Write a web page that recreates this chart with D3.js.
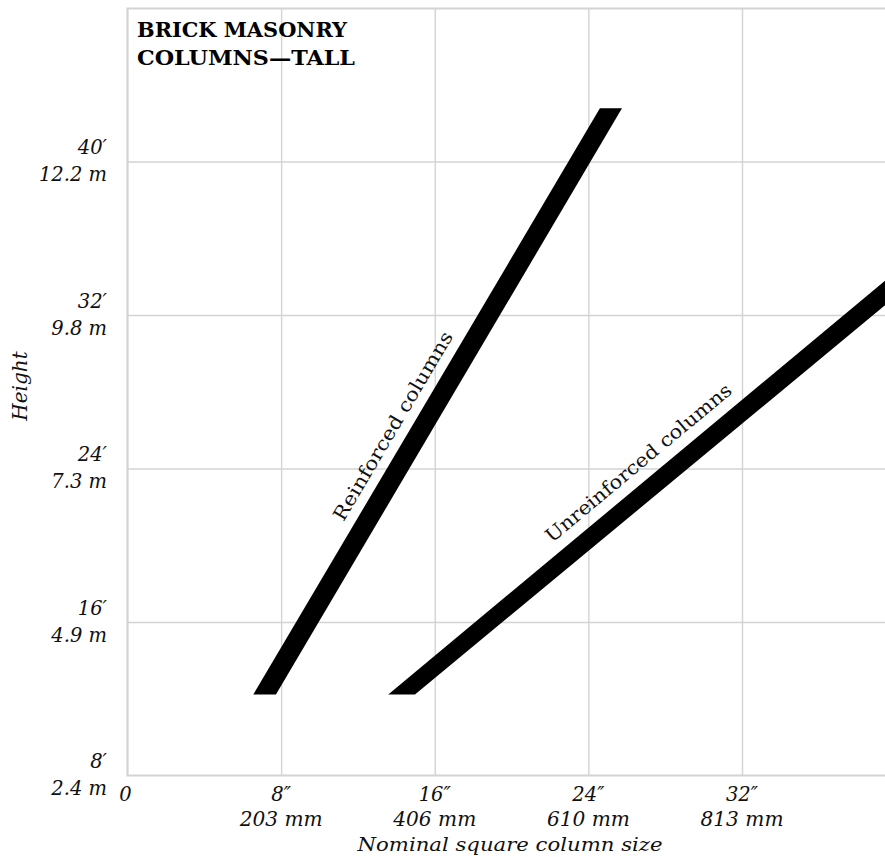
<!DOCTYPE html>
<html><head><meta charset="utf-8">
<script src="https://cdn.jsdelivr.net/npm/d3@7"></script>
<style>
html,body{margin:0;padding:0;background:#fff;}
svg{display:block;}
</style></head>
<body>
<svg id="chart" width="885" height="857"></svg>
<script>
// ---- data ----
const sizeTicks = [8, 16, 24, 32];            // inches
const sizeLabels = ["8″", "16″", "24″", "32″"];
const sizeMetric = ["203 mm", "406 mm", "610 mm", "813 mm"];
const heightTicks = [8, 16, 24, 32, 40];      // feet
const heightLabels = ["8′", "16′", "24′", "32′", "40′"];
const heightMetric = ["2.4 m", "4.9 m", "7.3 m", "9.8 m", "12.2 m"];
// bands: height (ft) with min/max column size (in)
const reinforced = [
  {h: 12.22, lo: 6.55, hi: 7.73},
  {h: 42.77, lo: 24.6, hi: 25.75}
];
const unreinforced = [
  {h: 12.22, lo: 13.58, hi: 14.97},
  {h: 34.29, lo: 40.05, hi: 41.6}
];
const bandLabels = [
  {text: "Reinforced columns", x: 11.25, h: 21.2, band: reinforced, len: 216},
  {text: "Unreinforced columns", x: 22.1, h: 20.1, band: unreinforced, len: 236}
];

// ---- layout ----
const W = 885, H = 857;
const svg = d3.select("#chart");
const x = d3.scaleLinear().domain([0, 32]).range([127.5, 742]);
const y = d3.scaleLinear().domain([8, 40]).range([775.5, 161.5]);
const plotLeft = x(0), plotRight = W, plotTop = 8.5, plotBottom = y(8);
const gridColor = "#d3d3d3";
const serif = "'DejaVu Serif', serif";

svg.append("defs").append("clipPath").attr("id", "plotclip")
  .append("rect").attr("x", plotLeft).attr("y", plotTop)
  .attr("width", plotRight - plotLeft).attr("height", plotBottom - plotTop);

// grid lines
const xAxisGrid = d3.axisBottom(x).tickValues(sizeTicks).tickSize(-(plotBottom - plotTop)).tickFormat("");
const gx = svg.append("g").attr("transform", `translate(0,${plotBottom})`).call(xAxisGrid);
gx.select(".domain").remove();
gx.selectAll("line").attr("stroke", gridColor).attr("stroke-width", 1.4);

const yAxisGrid = d3.axisLeft(y).tickValues(heightTicks.slice(1)).tickSize(-(plotRight - plotLeft)).tickFormat("");
const gy = svg.append("g").attr("transform", `translate(${plotLeft},0)`).call(yAxisGrid);
gy.select(".domain").remove();
gy.selectAll("line").attr("stroke", gridColor).attr("stroke-width", 1.4);

// frame (top, left, bottom)
svg.append("path")
  .attr("d", `M${plotRight},${plotTop}H${plotLeft}V${plotBottom}H${plotRight}`)
  .attr("fill", "none").attr("stroke", gridColor).attr("stroke-width", 2.2);

// bands
function bandPath(b) {
  const pts = [
    [x(b[0].lo), y(b[0].h)], [x(b[1].lo), y(b[1].h)],
    [x(b[1].hi), y(b[1].h)], [x(b[0].hi), y(b[0].h)]
  ];
  return d3.line()(pts) + "Z";
}
const bands = svg.append("g").attr("clip-path", "url(#plotclip)");
[reinforced, unreinforced].forEach(b => {
  bands.append("path").attr("d", bandPath(b)).attr("fill", "#000");
});

// band labels
bandLabels.forEach(l => {
  const b = l.band;
  const ang = Math.atan2(y(b[1].h) - y(b[0].h), x(b[1].lo) - x(b[0].lo)) * 180 / Math.PI;
  svg.append("text")
    .attr("transform", `translate(${x(l.x)},${y(l.h)}) rotate(${ang})`)
    .attr("font-family", serif).attr("font-size", 19).attr("fill", "#111")
    .attr("textLength", l.len).attr("lengthAdjust", "spacingAndGlyphs")
    .text(l.text);
});

// title
const title = svg.append("text").attr("font-family", serif).attr("font-weight", "bold")
  .attr("font-size", 20.5).attr("fill", "#000");
title.append("tspan").attr("x", 137).attr("y", 37).attr("textLength", 210).attr("lengthAdjust", "spacingAndGlyphs").text("BRICK MASONRY");
title.append("tspan").attr("x", 137).attr("y", 65).attr("textLength", 218).attr("lengthAdjust", "spacingAndGlyphs").text("COLUMNS—TALL");

// y labels
const yl = svg.append("g").attr("font-family", serif).attr("font-style", "italic")
  .attr("font-size", 19.5).attr("fill", "#111").attr("text-anchor", "end");
heightTicks.forEach((t, i) => {
  yl.append("text").attr("x", 107).attr("y", y(t) - 7.5).text(heightLabels[i]);
  yl.append("text").attr("x", 107).attr("y", y(t) + 19.5).text(heightMetric[i]);
});
svg.append("text").attr("transform", `translate(27,386) rotate(-90)`)
  .attr("font-family", serif).attr("font-style", "italic").attr("font-size", 20)
  .attr("fill", "#111").attr("text-anchor", "middle").text("Height");

// x labels
const xl = svg.append("g").attr("font-family", serif).attr("font-style", "italic")
  .attr("font-size", 19.5).attr("fill", "#111").attr("text-anchor", "middle");
xl.append("text").attr("x", x(0) - 2).attr("y", 801).text("0");
sizeTicks.forEach((t, i) => {
  xl.append("text").attr("x", x(t)).attr("y", 801).text(sizeLabels[i]);
  xl.append("text").attr("x", x(t)).attr("y", 826).attr("textLength", 83).attr("lengthAdjust", "spacingAndGlyphs").text(sizeMetric[i]);
});
xl.append("text").attr("x", 510).attr("y", 851).attr("font-size", 18.5)
  .attr("textLength", 305).attr("lengthAdjust", "spacingAndGlyphs")
  .text("Nominal square column size");
</script>
</body></html>
